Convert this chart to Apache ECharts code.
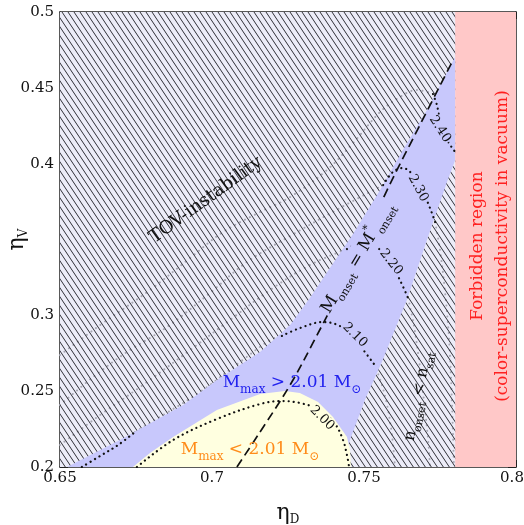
<!DOCTYPE html>
<html><head><meta charset="utf-8">
<script src="https://cdn.jsdelivr.net/npm/echarts@6/dist/echarts.min.js"></script>
<style>html,body{margin:0;padding:0;background:#fff}#c{width:524px;height:525px}</style>
</head><body><div id="c"></div>
<script>
// ---- axes ----
const xRange = [0.65, 0.8];
const yRange = [0.2, 0.5];
const xTickStep = 0.05;
const yTickStep = 0.05;
const yHiddenLabels = [0.35];

// ---- regions (eta_D, eta_V) ----
const plotBox = [[0.65,0.2],[0.8,0.2],[0.8,0.5],[0.65,0.5]];
const forbiddenBox = [[0.78,0.2],[0.8,0.2],[0.8,0.5],[0.78,0.5]];
const tovBoundary = [[0.6523,0.2000],[0.6697,0.2178],[0.6905,0.2409],[0.7026,0.2587],[0.7158,0.2758],[0.7257,0.2936],[0.7322,0.3114],[0.7388,0.3312],[0.7464,0.3536],[0.7553,0.3826],[0.7628,0.4090],[0.7707,0.4354],[0.7800,0.4703]];
const onsetBoundary = [[0.7800,0.4024],[0.7773,0.3879],[0.7707,0.3497],[0.7641,0.3101],[0.7559,0.2692],[0.7503,0.2442],[0.7454,0.2178],[0.7447,0.2125],[0.7454,0.2000]];
const mmaxBoundary = [[0.6740,0.2000],[0.6796,0.2092],[0.6872,0.2198],[0.7016,0.2376],[0.7158,0.2481],[0.7240,0.2501],[0.7289,0.2488],[0.7349,0.2429],[0.7398,0.2330],[0.7444,0.2198],[0.7454,0.2112],[0.7457,0.2000]];
const onsetLine = [[0.7082,0.2000],[0.7158,0.2231],[0.7257,0.2541],[0.7332,0.2818],[0.7438,0.3233],[0.7576,0.3826],[0.7684,0.4255],[0.7793,0.4683]];

// ---- M_max contours: visible parts (black) and parts under the hatch (grey) ----
const c200 = [[0.6753,0.2000],[0.6872,0.2178],[0.7016,0.2316],[0.7158,0.2415],[0.7230,0.2435],[0.7289,0.2422],[0.7355,0.2376],[0.7405,0.2283],[0.7431,0.2178],[0.7444,0.2079],[0.7451,0.2000]];
const c210a = [[0.6572,0.2000],[0.6632,0.2073],[0.6691,0.2145],[0.6747,0.2231]];
const c210b = [[0.6747,0.2231],[0.6829,0.2330],[0.6961,0.2495],[0.7092,0.2692],[0.7191,0.2837],[0.7230,0.2864]];
const c210c = [[0.7230,0.2864],[0.7289,0.2916],[0.7365,0.2956],[0.7414,0.2936],[0.7461,0.2870],[0.7493,0.2785],[0.7533,0.2679]];
const c210d = [[0.7533,0.2679],[0.7556,0.2560],[0.7576,0.2409],[0.7592,0.2211],[0.7602,0.2000]];
const c220a = [[0.6500,0.2145],[0.6632,0.2343],[0.6773,0.2541],[0.6928,0.2771],[0.7059,0.2969],[0.7191,0.3167],[0.7322,0.3332],[0.7444,0.3437]];
const c220b = [[0.7444,0.3437],[0.7477,0.3470],[0.7510,0.3484],[0.7546,0.3444],[0.7586,0.3352],[0.7618,0.3233],[0.7645,0.3114]];
const c220c = [[0.7645,0.3114],[0.7664,0.2936],[0.7681,0.2705],[0.7697,0.2442],[0.7711,0.2178],[0.7717,0.2000]];
const c230a = [[0.6500,0.2409],[0.6609,0.2593],[0.6720,0.2758],[0.6852,0.2923],[0.6993,0.3147],[0.7115,0.3352],[0.7257,0.3523],[0.7421,0.3708],[0.7563,0.3859]];
const c230b = [[0.7563,0.3859],[0.7595,0.3945],[0.7628,0.3971],[0.7661,0.3925],[0.7694,0.3813],[0.7717,0.3708],[0.7734,0.3615]];
const c230c = [[0.7734,0.3615],[0.7750,0.3431],[0.7766,0.3167],[0.7780,0.2837],[0.7789,0.2442],[0.7796,0.2000]];
const c240a = [[0.6500,0.2738],[0.6632,0.2936],[0.6796,0.3167],[0.6928,0.3378],[0.7036,0.3549],[0.7158,0.3681],[0.7257,0.3780],[0.7378,0.3958],[0.7464,0.4136],[0.7553,0.4341],[0.7618,0.4440],[0.7674,0.4486],[0.7727,0.4459]];
const c240b = [[0.7727,0.4459],[0.7740,0.4386],[0.7753,0.4255],[0.7773,0.4156],[0.7800,0.4077]];
const greyParts = [c210b, c210d, c220a, c220c, c230a, c230c, c240a];
const blackParts = [c200, c210a, c210c, c220b, c230b, c240b];

// ---- annotations ----
const annotations = [
  {pos:[0.6980,0.3760], text:'TOV-instability', rot:36, kind:'tov'},
  {pos:[0.7480,0.3378], text:'{m|M}{s|onset}{m| = M}{p|*}{s|onset}', rot:59, kind:'onset'},
  {pos:[0.7263,0.2554], text:'{m|M}{s|max}{m| > 2.01 M}{s|⊙}', rot:0, kind:'blue'},
  {pos:[0.7125,0.2112], text:'{m|M}{s|max}{m| < 2.01 M}{s|⊙}', rot:0, kind:'orange'},
  {pos:[0.7678,0.2468], text:'{m|n}{s|onset}{m| < n}{s|sat}', rot:79, kind:'nsat'},
  {pos:[0.7916,0.3457], text:'Forbidden region\n(color-superconductivity in vacuum)', rot:90, kind:'forbidden'},
  {pos:[0.7362,0.2323], text:'2.00', rot:-45, kind:'cy'},
  {pos:[0.7470,0.2870], text:'2.10', rot:-45, kind:'cb'},
  {pos:[0.7589,0.3351], text:'2.20', rot:-52, kind:'cb'},
  {pos:[0.7678,0.3839], text:'2.30', rot:-62, kind:'cb'},
  {pos:[0.7750,0.4228], text:'2.40', rot:-57, kind:'cb'}
];

const FONT = 'DejaVu Serif';
const BLUE = '#c8c8fc', YELLOW = '#ffffe0', PINK = '#ffc8c8', HATCHBG = '#ececf8';

function richFor(size, sub, color) {
  return {
    m: {fontSize: size, fontFamily: FONT, fill: color, lineHeight: size + 8},
    s: {fontSize: sub, fontFamily: FONT, fill: color, verticalAlign: 'bottom', lineHeight: sub + 3},
    p: {fontSize: sub, fontFamily: FONT, fill: color, verticalAlign: 'top', lineHeight: sub + 3}
  };
}
const textStyles = {
  tov: {fontSize: 18, fontFamily: FONT, fill: '#111'},
  onset: {rich: richFor(17, 11, '#111'), backgroundColor: BLUE, padding: [0, 2]},
  blue: {rich: richFor(17, 12, '#2222ee')},
  orange: {rich: richFor(17, 12, '#ff8c1a')},
  nsat: {rich: richFor(16, 11, '#111')},
  forbidden: {fontSize: 17, fontFamily: FONT, fill: '#ff2020', lineHeight: 25},
  cy: {fontSize: 13, fontFamily: FONT, fill: '#111', backgroundColor: YELLOW, padding: [0, 1]},
  cb: {fontSize: 13, fontFamily: FONT, fill: '#111', backgroundColor: BLUE, padding: [0, 1]}
};

// hatch pattern tile
const TW = 6, TH = 9;
const tile = document.createElement('canvas');
tile.width = TW; tile.height = TH;
(function () {
  const ctx = tile.getContext('2d');
  ctx.strokeStyle = '#303038';
  ctx.lineWidth = 1;
  for (let k = -1; k <= 1; k++) {
    ctx.beginPath();
    ctx.moveTo(k * TW - TW, -TH);
    ctx.lineTo(k * TW + 2 * TW, 2 * TH);
    ctx.stroke();
  }
})();

function polySeries(points, style, z) {
  return {
    type: 'custom', z: z, silent: true, clip: true, data: [0],
    renderItem: function (params, api) {
      return {type: 'polygon', shape: {points: points.map(function (p) { return api.coord(p); })}, style: style};
    }
  };
}
function lineSeries(points, style, z) {
  return {
    type: 'line', z: z, silent: true, data: points, showSymbol: false, symbol: 'none',
    smooth: 0.35, clip: true, lineStyle: style, animation: false
  };
}

const greyStyle = {color: '#a8a8b4', width: 2, type: [0.1, 5.5], cap: 'round'};
const blackStyle = {color: '#111', width: 2.2, type: [0.1, 5], cap: 'round'};
const dashStyle = {color: '#111', width: 1.7, type: [9, 5]};

const series = [];
series.push(polySeries(plotBox, {fill: HATCHBG}, 1));
greyParts.forEach(function (p) { series.push(lineSeries(p, greyStyle, 2)); });
series.push(polySeries(plotBox, {fill: {type: 'pattern', image: tile, repeat: 'repeat'}}, 3));
series.push(polySeries(tovBoundary.concat(onsetBoundary), {fill: BLUE}, 4));
series.push(polySeries(mmaxBoundary, {fill: YELLOW}, 5));
series.push(polySeries(forbiddenBox, {fill: PINK}, 5));
blackParts.forEach(function (p) { series.push(lineSeries(p, blackStyle, 6)); });
series.push(lineSeries(onsetLine, dashStyle, 6));
series.push({
  type: 'custom', z: 8, silent: true, clip: false,
  data: annotations.map(function (a) { return a.pos; }),
  renderItem: function (params, api) {
    const a = annotations[params.dataIndex];
    const pt = api.coord(a.pos);
    return {
      type: 'text', x: pt[0], y: pt[1], rotation: a.rot * Math.PI / 180,
      style: Object.assign({text: a.text, x: 0, y: 0, align: 'center', verticalAlign: 'middle'}, textStyles[a.kind])
    };
  }
});

const axisLine = {show: true, onZero: false, lineStyle: {color: '#222', width: 1.5}};
const nameRich = {e: {fontFamily: FONT, fontSize: 22, color: '#111', lineHeight: 26}, s: {fontFamily: FONT, fontSize: 12, color: '#111', verticalAlign: 'bottom', lineHeight: 14}};
function xAx(pos, labels) {
  return {
    type: 'value', position: pos, min: xRange[0], max: xRange[1], interval: xTickStep,
    axisLine: axisLine,
    axisTick: {show: true, inside: true, length: 7, lineStyle: {color: '#222', width: 1}},
    minorTick: {show: true, splitNumber: 10, length: 4, lineStyle: {color: '#222', width: 1}},
    splitLine: {show: false}, minorSplitLine: {show: false},
    axisLabel: {show: labels, margin: 4, fontFamily: FONT, fontSize: 15, color: '#111',
      formatter: function (v) { const s = String(+v.toFixed(3)); return Math.abs(v - xRange[1]) < 1e-9 ? '{r|' + s + '}' : s; },
      rich: {r: {fontFamily: FONT, fontSize: 15, color: '#111', padding: [0, 8, 0, 0]}}},
    name: labels ? '{e|η}{s|D}' : '', nameLocation: 'middle', nameGap: 33,
    nameTextStyle: {rich: nameRich}
  };
}
function yAx(pos, labels) {
  return {
    type: 'value', position: pos, min: yRange[0], max: yRange[1], interval: yTickStep,
    axisLine: axisLine,
    axisTick: {show: true, inside: true, length: 8, lineStyle: {color: '#222', width: 1}},
    minorTick: {show: true, splitNumber: 2, length: 5, lineStyle: {color: '#222', width: 1}},
    splitLine: {show: false}, minorSplitLine: {show: false},
    axisLabel: {show: labels, margin: 6, fontFamily: FONT, fontSize: 15, color: '#111',
      formatter: function (v) { return yHiddenLabels.some(function (h) { return Math.abs(h - v) < 1e-9; }) ? '' : String(+v.toFixed(3)); }},
    name: labels ? '{e|η}{s|V}' : '', nameLocation: 'middle', nameGap: 30, nameRotate: 90,
    nameMoveOverlap: false,
    nameTextStyle: {rich: nameRich}
  };
}

const chart = echarts.init(document.getElementById('c'), null, {renderer: 'canvas'});
chart.setOption({
  animation: false,
  grid: {left: 60, right: 8, top: 12, bottom: 58, containLabel: false, outerBoundsMode: 'none'},
  xAxis: [xAx('bottom', true), xAx('top', false)],
  yAxis: [yAx('left', true), yAx('right', false)],
  series: series
});
</script></body></html>
